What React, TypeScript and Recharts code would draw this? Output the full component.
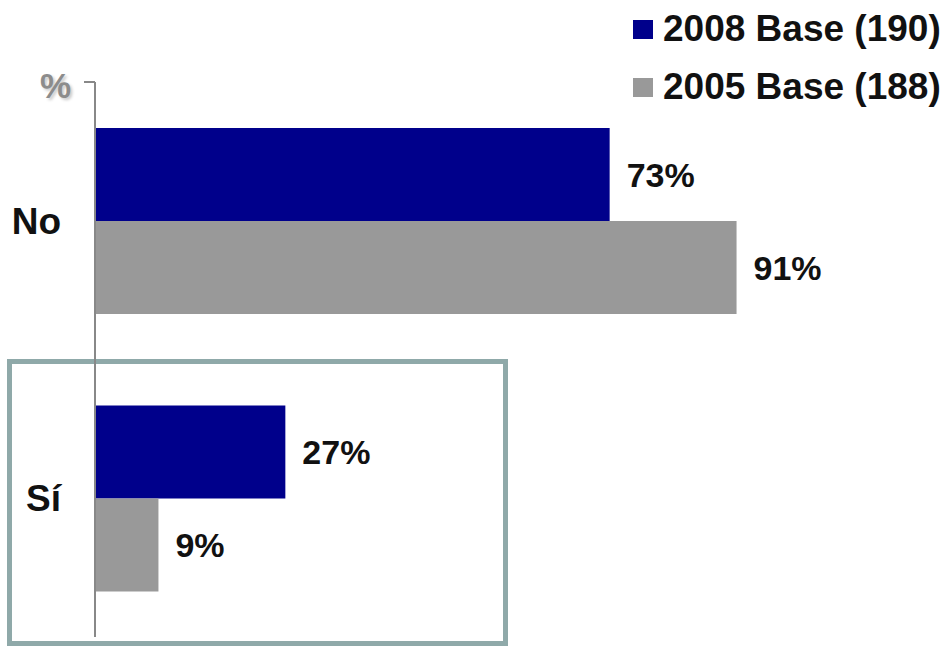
import { Bar, BarChart, LabelList, Legend, XAxis, YAxis } from 'recharts'

const categories = ['No', 'Sí']
const base2008 = [73, 27]
const base2005 = [91, 9]
const seriesNames = ['2008 Base (190)', '2005 Base (188)']
const seriesColors = ['#00008b', '#999999']

const data = categories.map((c, i) => ({
  answer: c,
  b2008: base2008[i],
  b2005: base2005[i],
}))

const font = '"Liberation Sans", Arial, sans-serif'

function EmptyTick() {
  return <g />
}

function LegendBox({ payload }: { payload?: { value: string; color: string }[] }) {
  const items = [...(payload ?? [])].sort(
    (a, b) => seriesNames.indexOf(a.value) - seriesNames.indexOf(b.value),
  )
  return (
    <div style={{ fontFamily: font }}>
      {items.map((p) => (
        <div key={p.value} style={{ display: 'flex', alignItems: 'center', height: 58 }}>
          <span style={{ width: 20, height: 19, background: p.color, marginRight: 10 }} />
          <span style={{ fontSize: 37, fontWeight: 'bold', color: '#111', whiteSpace: 'nowrap' }}>
            {p.value}
          </span>
        </div>
      ))}
    </div>
  )
}

export default function App() {
  return (
    <div style={{ position: 'absolute', left: 0, top: 0, width: 945, height: 646, background: '#fff' }}>
      <div
        style={{
          position: 'absolute',
          left: 7,
          top: 359,
          width: 501,
          height: 287,
          border: '5px solid #8fa9a9',
          boxSizing: 'border-box',
        }}
      />
      <div
        style={{
          position: 'absolute',
          left: 40,
          top: 68,
          fontFamily: font,
          fontSize: 35,
          lineHeight: '35px',
          fontWeight: 'bold',
          color: '#8c8c8c',
          textShadow: '2px 2px 3px #c8c8c8',
        }}
      >
        %
      </div>
      <div style={{ position: 'absolute', left: 0, top: 0 }}>
        <BarChart
          layout="vertical"
          width={945}
          height={646}
          data={data}
          margin={{ top: 82, right: 145, bottom: 9, left: 0 }}
          barGap={0}
        >
          <XAxis type="number" domain={[0, 100]} hide />
          <YAxis
            type="category"
            dataKey="answer"
            width={95}
            axisLine={{ stroke: '#888', strokeWidth: 2 }}
            tickLine={false}
            tickSize={0}
            tickMargin={34}
            tick={{ fill: '#111', fontSize: 37, fontWeight: 'bold', fontFamily: font }}
          />
          {/* end ticks of the bracket-like axis */}
          <YAxis
            yAxisId="frame"
            type="number"
            domain={[0, 2]}
            ticks={[0, 2]}
            allowDataOverflow
            mirror
            tickSize={-11}
            tick={EmptyTick}
            axisLine={false}
            tickLine={{ stroke: '#888', strokeWidth: 2 }}
          />
          <Legend
            layout="vertical"
            align="center"
            verticalAlign="middle"
            wrapperStyle={{ top: 0, left: 633, width: 312 }}
            content={<LegendBox />}
          />
          <Bar dataKey="b2008" name={seriesNames[0]} fill={seriesColors[0]} barSize={93} isAnimationActive={false}>
            <LabelList
              dataKey="b2008"
              position="right"
              offset={17}
              formatter={(v: number) => `${v}%`}
              style={{ fill: '#111', fontSize: 34, fontWeight: 'bold', fontFamily: font }}
            />
          </Bar>
          <Bar dataKey="b2005" name={seriesNames[1]} fill={seriesColors[1]} barSize={93} isAnimationActive={false}>
            <LabelList
              dataKey="b2005"
              position="right"
              offset={17}
              formatter={(v: number) => `${v}%`}
              style={{ fill: '#111', fontSize: 34, fontWeight: 'bold', fontFamily: font }}
            />
          </Bar>
        </BarChart>
      </div>
    </div>
  )
}
